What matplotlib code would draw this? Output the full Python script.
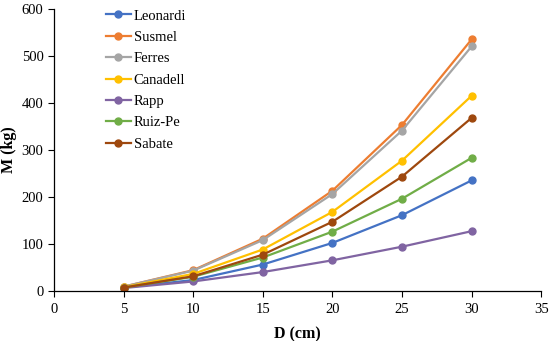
import matplotlib
matplotlib.use("Agg")
import matplotlib.pyplot as plt

diameter = [5, 10, 15, 20, 25, 30]

leonardi = [7, 23, 56, 102, 161, 235]
susmel = [9, 44, 111, 213, 353, 535]
ferres = [9, 43, 108, 206, 341, 520]
canadell = [8, 36, 88, 168, 277, 415]
rapp = [6, 20, 40, 65, 94, 127]
ruiz_pe = [7, 30, 71, 126, 196, 283]
sabate = [7, 31, 77, 147, 243, 368]

series = [
    ("Leonardi", leonardi, "#4472C4"),
    ("Susmel", susmel, "#ED7D31"),
    ("Ferres", ferres, "#A5A5A5"),
    ("Canadell", canadell, "#FFC000"),
    ("Rapp", rapp, "#8064A2"),
    ("Ruiz-Pe", ruiz_pe, "#70AD47"),
    ("Sabate", sabate, "#9E480E"),
]

plt.rcParams["font.family"] = ["Liberation Serif", "DejaVu Serif"]

fig = plt.figure(figsize=(5.5, 3.41), dpi=100)
ax = fig.add_axes([0.098, 0.147, 0.886, 0.827])

for name, vals, col in series:
    ax.plot(diameter, vals, color=col, linewidth=1.6, marker="o", markersize=5,
            label=name)

ax.set_xlim(0, 35)
ax.set_ylim(0, 600)
ax.set_xticks(range(0, 36, 5))
ax.set_yticks(range(0, 601, 100))
ax.tick_params(labelsize=10.5, length=4, width=0.8, direction="out")
ax.tick_params(axis="x", pad=5)
for s in ["top", "right"]:
    ax.spines[s].set_visible(False)
for s in ["left", "bottom"]:
    ax.spines[s].set_linewidth(0.9)

ax.set_xlabel("D (cm)", fontsize=11.5, fontweight="bold", labelpad=7)
ax.set_ylabel("M (kg)", fontsize=11.5, fontweight="bold", labelpad=3)

ax.legend(loc="upper left", bbox_to_anchor=(0.08, 1.045), frameon=False,
          fontsize=10.5, handlelength=1.7, handletextpad=0.2,
          labelspacing=0.56)

fig.savefig("out.png", dpi=100)
